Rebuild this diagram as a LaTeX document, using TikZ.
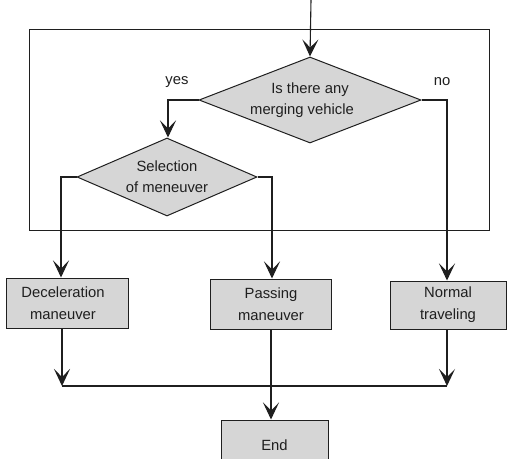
\documentclass[tikz,border=0pt]{standalone}
\usepackage{fontspec}
\setmainfont{Liberation Sans}
\usetikzlibrary{shapes.geometric,arrows.meta}
\definecolor{boxgray}{gray}{0.84}
\definecolor{ink}{gray}{0.12}
\begin{document}
\begin{tikzpicture}[x=1pt,y=-1pt,
  font=\fontsize{14.8}{22}\selectfont,
  every node/.style={text=ink},
  line/.style={draw=ink,line width=1.1pt},
  arr/.style={line,-{Stealth[length=17pt,width=16pt,inset=8pt]}},
  dia/.style={diamond,draw=ink,line width=1pt,fill=boxgray,inner sep=0pt,align=center,aspect=2.5},
  box/.style={rectangle,draw=ink,line width=1pt,fill=boxgray,inner sep=0pt,align=center,minimum height=50pt},
  lab/.style={inner sep=0pt}]
\useasboundingbox (0,0) rectangle (508,458);
\fill[white] (0,0) rectangle (508,458);
% frame
\draw[line,line width=1pt] (29,29) rectangle (489,230);
% decisions
\node[dia,minimum width=222pt,minimum height=86pt] (d1) at (310,100) {Is there any\\[-1pt]\hspace*{-16pt}merging vehicle};
\node[dia,minimum width=180pt,minimum height=78pt] (d2) at (167,177) {Selection\\[-1pt]of meneuver};
% boxes
\node[box,minimum width=122pt] (dec) at (67,303) {\hspace*{-8pt}Deceleration\\\hspace*{-8pt}maneuver};
\node[box,minimum width=121pt] (pas) at (271,304) {Passing\\maneuver};
\node[box,minimum width=116pt,minimum height=48pt] (nor) at (448,305) {Normal\\traveling};
\node[box,minimum width=107pt] (end) at (274.5,445) {End};
% labels
\node[lab] (yes) at (177,82) {yes};
\node[lab] (no) at (442,82) {no};
% connectors
\coordinate (start) at (311,0);
\coordinate (jl) at (62,386);
\coordinate (jr) at (447,386);
\draw[arr] (start) -- (d1.north);
\draw[arr] (d1.west) -| ([xshift=1pt]d2.north);
\draw[arr] (d1.east) -| ([xshift=-1pt]nor.north);
\draw[arr] (d2.west) -| ([xshift=-6pt]dec.north);
\draw[arr] (d2.east) -| ([xshift=1pt]pas.north);
\draw[arr] ([xshift=-5pt]dec.south) -- (jl);
\draw[arr] ([xshift=-1pt]nor.south) -- (jr);
\draw[line] (jl) -- (jr);
\draw[arr] (pas.south) -- (pas.south |- end.north);
\end{tikzpicture}
\end{document}
